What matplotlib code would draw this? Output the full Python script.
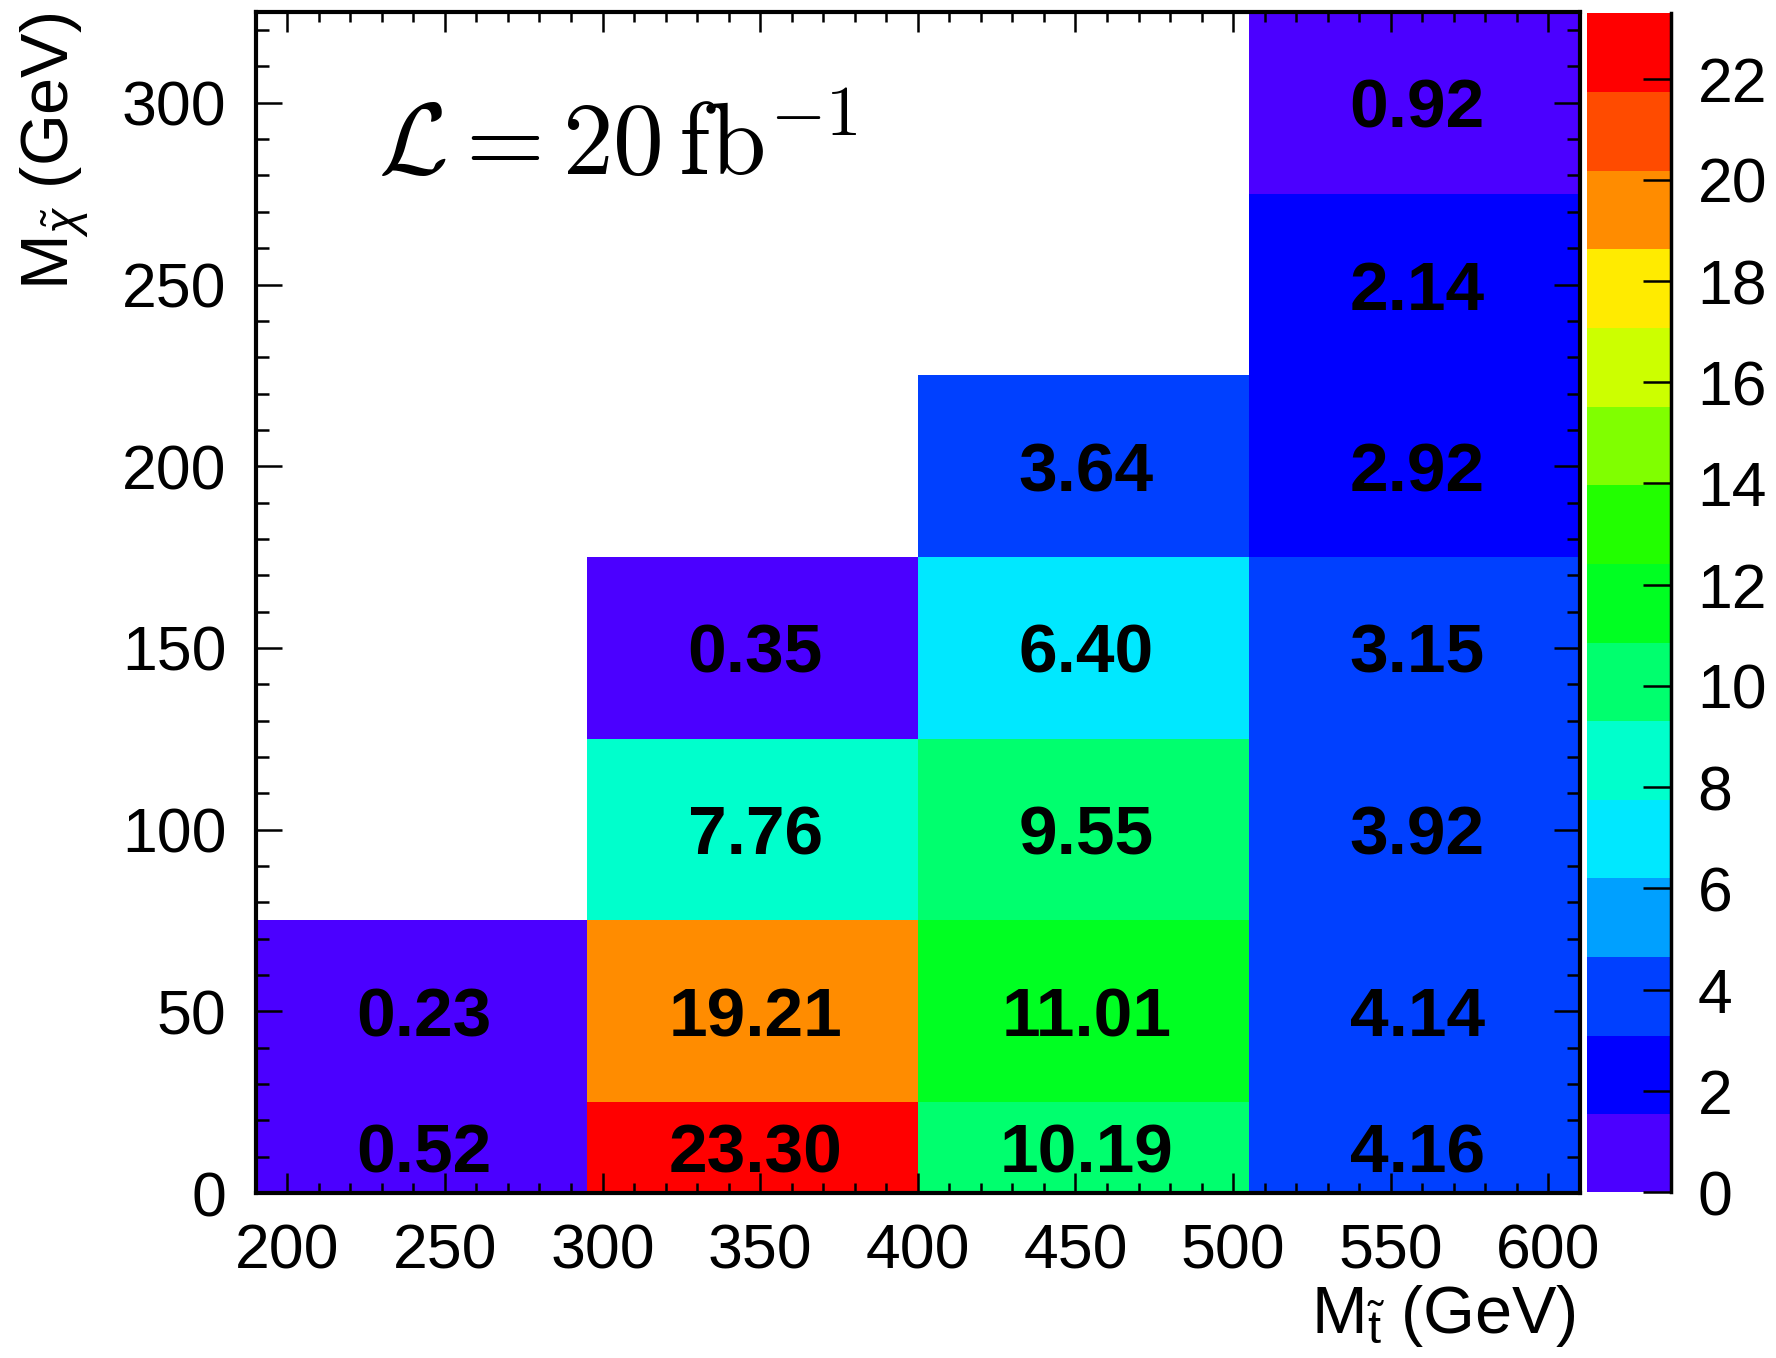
import numpy as np
import matplotlib
matplotlib.use('Agg')
import matplotlib.pyplot as plt
from matplotlib.colors import ListedColormap, BoundaryNorm
from matplotlib.ticker import MultipleLocator

plt.rcParams['font.family'] = ['Liberation Sans', 'DejaVu Sans']
plt.rcParams['mathtext.fontset'] = 'custom'
plt.rcParams['mathtext.rm'] = 'Liberation Sans'
plt.rcParams['mathtext.it'] = 'Liberation Sans:italic'
plt.rcParams['mathtext.bf'] = 'Liberation Sans:bold'

# bin edges of the 2D histogram (stop mass on x, neutralino mass on y)
x_edges = [190, 295, 400, 505, 610]
y_edges = [-25, 25, 75, 125, 175, 225, 275, 325]

# values per stop-mass column, from the lowest neutralino bin upward
col_250 = [0.52, 0.23]
col_350 = [23.30, 19.21, 7.76, 0.35]
col_450 = [10.19, 11.01, 9.55, 6.40, 3.64]
col_550 = [4.16, 4.14, 3.92, 3.15, 2.92, 2.14, 0.92]
columns = [col_250, col_350, col_450, col_550]

# palette levels as in the ROOT plot (15 contours from 0 to max)
palette = ['#4B00FF', '#0000FF', '#0040FF', '#00A0FF', '#00E8FF',
           '#00FFCC', '#00FF6E', '#00FF22', '#22FF00', '#80FF00',
           '#CCFF00', '#FFEB00', '#FF8C00', '#FF4B00', '#FF0000']
z_max = 23.30
n_lev = len(palette)

Z = np.full((len(y_edges) - 1, len(x_edges) - 1), np.nan)
for j, col in enumerate(columns):
    Z[:len(col), j] = col
Z = np.ma.masked_invalid(Z)

# ROOT picks the colour with int(0.01 + z*n/zmax), shift the bounds the same way
bounds = np.linspace(0, z_max, n_lev + 1) - 0.01 * z_max / n_lev
bounds[0] = 0
bounds[-1] = z_max
cmap = ListedColormap(palette)
norm = BoundaryNorm(bounds, n_lev, clip=True)

fig = plt.figure(figsize=(17.76, 13.58), dpi=100)
ax = fig.add_axes([0.1440, 0.1215, 0.7456, 0.8697])
mesh = ax.pcolormesh(x_edges, y_edges, Z, cmap=cmap, norm=norm,
                     edgecolors='face', linewidth=0, antialiased=False)

# bin contents written in each cell
x_cent = [(a + b) / 2 for a, b in zip(x_edges[:-1], x_edges[1:])]
for j, col in enumerate(columns):
    for i, v in enumerate(col):
        y_c = (max(y_edges[i], 0) + y_edges[i + 1]) / 2
        ax.annotate('%.2f' % v, (x_cent[j], y_c), xytext=(2, -18),
                    textcoords='offset points', ha='center', va='baseline',
                    fontsize=50, fontweight='bold', color='black')

ax.set_xlim(190, 610)
ax.set_ylim(0, 325)
ax.xaxis.set_major_locator(MultipleLocator(50))
ax.xaxis.set_minor_locator(MultipleLocator(10))
ax.yaxis.set_major_locator(MultipleLocator(50))
ax.yaxis.set_minor_locator(MultipleLocator(10))
ax.tick_params(which='both', direction='in', top=True, right=True,
               width=1.8, labelsize=45, pad=21)
ax.tick_params(axis='x', which='major', length=14.4)
ax.tick_params(axis='x', which='minor', length=7.2)
ax.tick_params(axis='y', which='major', length=18.7)
ax.tick_params(axis='y', which='minor', length=9.4)
for s in ax.spines.values():
    s.set_linewidth(3)

ax.text(0.0925, 0.8620, r'$\mathcal{L} = 20\,\mathrm{fb}^{-1}$',
        transform=ax.transAxes, ha='left', va='baseline', fontsize=73,
        math_fontfamily='cm')

fig.text(1576 / 1776, 1 - 1333 / 1358, r'M$_{\tilde{\mathrm{t}}}$ (GeV)',
         ha='right', va='baseline', fontsize=48)
fig.text(18 / 1776, 1 - 13 / 1358, r'M$_{\tilde{\chi}}$ (GeV)',
         ha='left', va='top', rotation=90, fontsize=48)

# colour scale on the right
cax = fig.add_axes([0.8936, 0.1222, 0.0473, 0.8684])
cbar = fig.colorbar(mesh, cax=cax, spacing='proportional',
                    ticks=list(range(0, 23, 2)))
cbar.outline.set_visible(False)
cax.set_ylim(0, z_max)
cax.plot([1, 1], [0, 1], transform=cax.transAxes, color='black',
         lw=2.5, clip_on=False)
cax.tick_params(direction='in', length=20, width=1.8, labelsize=45,
                pad=19, right=True, left=False)
cax.minorticks_off()

plt.savefig('out.png', dpi=100)
